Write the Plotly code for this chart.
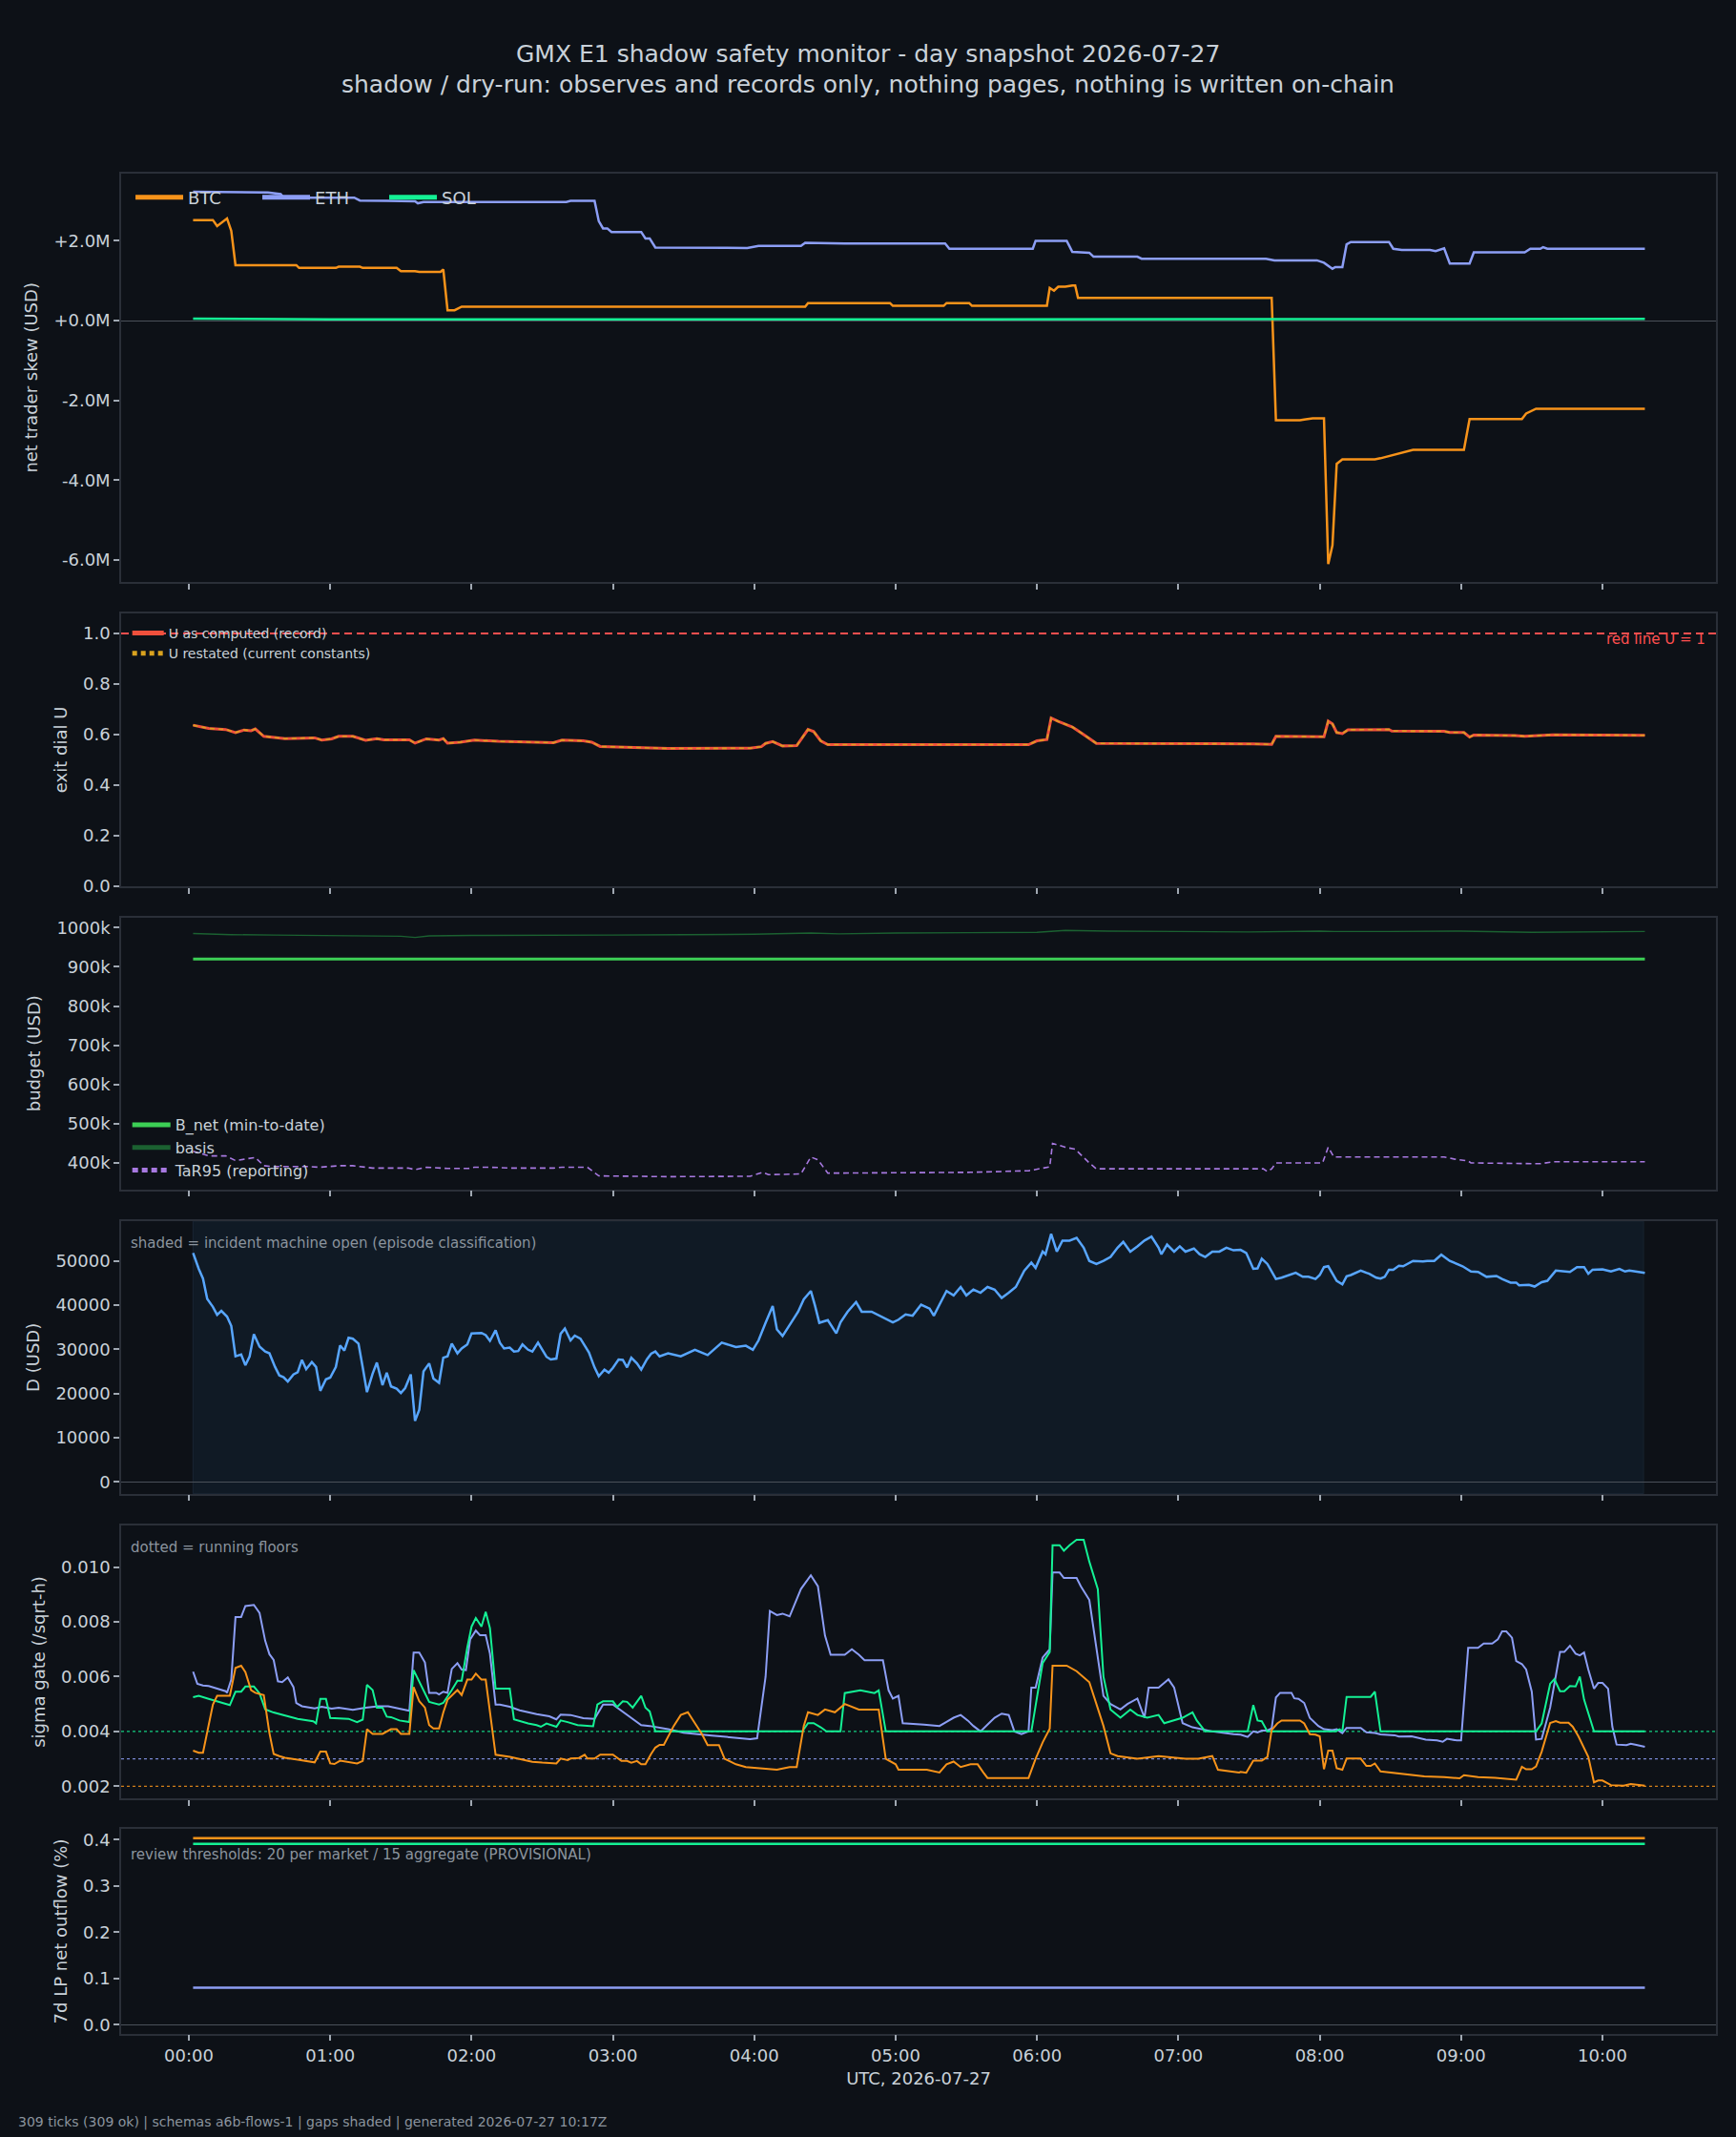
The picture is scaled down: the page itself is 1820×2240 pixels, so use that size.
import numpy as np
import pandas as pd
import plotly.graph_objects as go
from plotly.subplots import make_subplots

DAY = pd.Timestamp("2026-07-27")

# ---------------- panel 1: net trader skew (USD millions) ----------------
skew_btc_h = [0.03, 0.17, 0.20, 0.27, 0.30, 0.33, 0.76, 0.78, 1.04, 1.06, 1.21, 1.23, 1.47, 1.50, 1.60, 1.63,
              1.78, 1.80, 1.83, 1.88, 1.93, 4.36, 4.38, 4.96, 4.98, 5.34, 5.36, 5.52, 5.54, 6.07, 6.09, 6.12,
              6.15, 6.20, 6.25, 6.27, 6.29, 7.66, 7.69, 7.86, 7.89, 7.95, 8.03, 8.06, 8.09, 8.12, 8.16, 8.39,
              8.43, 8.55, 8.61, 8.66, 9.02, 9.06, 9.43, 9.46, 9.53, 10.30]
skew_btc_m = [2.52, 2.52, 2.37, 2.56, 2.25, 1.39, 1.39, 1.32, 1.32, 1.35, 1.35, 1.32, 1.32, 1.24, 1.24, 1.22,
              1.22, 1.28, 0.26, 0.26, 0.35, 0.35, 0.44, 0.44, 0.37, 0.37, 0.44, 0.44, 0.37, 0.37, 0.82, 0.75,
              0.85, 0.85, 0.88, 0.88, 0.57, 0.57, -2.50, -2.50, -2.48, -2.45, -2.45, -6.10, -5.63, -3.59, -3.48, -3.48,
              -3.45, -3.34, -3.30, -3.24, -3.24, -2.47, -2.47, -2.33, -2.21, -2.21]
skew_eth_h = [0.03, 0.56, 0.65, 0.67, 1.17, 1.21, 1.40, 1.60, 1.62, 1.66, 2.67, 2.70, 2.87, 2.90, 2.93, 2.96,
              2.99, 3.20, 3.23, 3.26, 3.30, 3.95, 4.03, 4.33, 4.36, 4.60, 4.64, 5.35, 5.38, 5.97, 5.99, 6.21,
              6.25, 6.37, 6.40, 6.71, 6.74, 7.62, 7.68, 7.98, 8.03, 8.09, 8.11, 8.16, 8.19, 8.22, 8.49, 8.52,
              8.58, 8.78, 8.82, 8.88, 8.92, 9.06, 9.09, 9.45, 9.49, 9.56, 9.58, 9.61, 10.30]
skew_eth_m = [3.23, 3.21, 3.17, 3.08, 3.08, 3.01, 3.00, 2.99, 2.94, 2.97, 2.97, 3.00, 3.00, 2.49, 2.31, 2.31,
              2.22, 2.22, 2.06, 2.06, 1.83, 1.82, 1.87, 1.87, 1.95, 1.93, 1.93, 1.93, 1.80, 1.80, 2.00, 2.00,
              1.72, 1.70, 1.60, 1.60, 1.55, 1.55, 1.51, 1.51, 1.45, 1.30, 1.34, 1.34, 1.91, 1.97, 1.97, 1.80,
              1.77, 1.77, 1.74, 1.81, 1.43, 1.43, 1.71, 1.71, 1.80, 1.80, 1.84, 1.80, 1.80]
skew_sol_h = [0.03, 1.00, 3.00, 6.00, 10.30]
skew_sol_m = [0.05, 0.03, 0.03, 0.04, 0.04]
skew_tickvals = [2, 0, -2, -4, -6]
skew_ticktext = ["+2.0M", "+0.0M", "-2.0M", "-4.0M", "-6.0M"]

# ---------------- panel 2: exit dial U ----------------
u_h = [0.03, 0.14, 0.26, 0.33, 0.39, 0.44, 0.47, 0.53, 0.68, 0.89, 0.94, 1.01, 1.06, 1.16, 1.25, 1.33, 1.38,
       1.56, 1.60, 1.68, 1.77, 1.80, 1.83, 1.92, 2.02, 2.19, 2.58, 2.64, 2.79, 2.85, 2.91, 3.03, 3.24, 3.39,
       3.97, 4.05, 4.08, 4.13, 4.20, 4.30, 4.38, 4.42, 4.47, 4.52, 5.94, 6.00, 6.07, 6.10, 6.15, 6.25, 6.33,
       6.38, 6.42, 7.53, 7.66, 7.69, 8.03, 8.06, 8.09, 8.12, 8.16, 8.20, 8.49, 8.51, 8.88, 8.92, 9.02, 9.06,
       9.09, 9.38, 9.45, 9.65, 10.30]
u_computed = [0.637, 0.624, 0.620, 0.608, 0.618, 0.615, 0.622, 0.593, 0.584, 0.587, 0.578, 0.583, 0.593, 0.593,
              0.577, 0.584, 0.579, 0.579, 0.566, 0.583, 0.578, 0.584, 0.566, 0.570, 0.578, 0.573, 0.568, 0.578,
              0.575, 0.570, 0.553, 0.551, 0.548, 0.545, 0.546, 0.552, 0.565, 0.572, 0.555, 0.556, 0.620, 0.612,
              0.575, 0.560, 0.560, 0.575, 0.580, 0.665, 0.652, 0.630, 0.600, 0.580, 0.565, 0.563, 0.561, 0.593,
              0.591, 0.653, 0.642, 0.608, 0.604, 0.619, 0.620, 0.614, 0.613, 0.608, 0.608, 0.590, 0.598, 0.596,
              0.593, 0.599, 0.597]
u_restated = list(u_computed)
u_red_line = 1.0

# ---------------- panel 3: budget (USD) ----------------
bnet_h = [0.03, 10.30]
bnet_usd = [920000, 920000]
basis_h = [0.03, 0.3, 0.6, 1.0, 1.5, 1.6, 1.7, 2.0, 2.5, 3.0, 3.5, 4.0, 4.4, 4.6, 5.0, 5.5, 6.0, 6.2, 6.5,
           7.0, 7.5, 8.0, 8.1, 8.5, 9.0, 9.5, 10.3]
basis_k = [985, 982, 981, 979, 978, 975, 979, 980, 980, 981, 982, 983, 986, 984, 986, 987, 988, 993, 991,
           990, 989, 991, 990, 990, 991, 988, 990]
tar95_h = [0.03, 0.14, 0.26, 0.33, 0.47, 0.53, 0.59, 0.83, 0.92, 1.07, 1.16, 1.25, 1.30, 1.55, 1.60, 1.68,
           1.83, 1.98, 2.02, 2.13, 2.28, 2.58, 2.64, 2.82, 2.90, 3.39, 3.97, 4.06, 4.10, 4.33, 4.40, 4.45,
           4.52, 5.50, 5.94, 6.09, 6.11, 6.20, 6.27, 6.37, 6.42, 7.60, 7.63, 7.66, 7.69, 8.02, 8.06, 8.10,
           8.15, 8.88, 8.95, 9.05, 9.07, 9.56, 9.65, 10.30]
tar95_k = [430, 418, 418, 406, 414, 393, 391, 391, 389, 393, 393, 388, 387, 387, 383, 389, 386, 386, 389, 389,
           387, 387, 389, 389, 367, 365, 366, 376, 370, 372, 415, 408, 374, 376, 380, 390, 450, 440, 435, 400,
           385, 385, 378, 385, 400, 400, 440, 415, 415, 415, 410, 405, 400, 398, 403, 403]
budget_tickvals = [400000, 500000, 600000, 700000, 800000, 900000, 1000000]
budget_ticktext = ["400k", "500k", "600k", "700k", "800k", "900k", "1000k"]

# ---------------- panel 4: D (USD) ----------------
d_h = [0.03, 0.07, 0.10, 0.13, 0.17, 0.20, 0.23, 0.27, 0.30, 0.33, 0.37, 0.40, 0.43, 0.46, 0.50, 0.54, 0.57,
       0.61, 0.64, 0.67, 0.70, 0.74, 0.77, 0.80, 0.83, 0.87, 0.90, 0.93, 0.97, 1.00, 1.04, 1.07, 1.10, 1.13,
       1.16, 1.20, 1.23, 1.26, 1.30, 1.33, 1.37, 1.40, 1.43, 1.47, 1.50, 1.53, 1.57, 1.60, 1.63, 1.66, 1.70,
       1.73, 1.77, 1.80, 1.83, 1.86, 1.90, 1.93, 1.97, 2.00, 2.07, 2.10, 2.13, 2.17, 2.20, 2.23, 2.27, 2.30,
       2.33, 2.36, 2.40, 2.43, 2.47, 2.50, 2.53, 2.56, 2.60, 2.63, 2.66, 2.70, 2.73, 2.77, 2.80, 2.83, 2.87,
       2.90, 2.94, 2.97, 3.00, 3.04, 3.07, 3.10, 3.13, 3.17, 3.20, 3.24, 3.27, 3.30, 3.33, 3.39,
       3.48, 3.58, 3.67, 3.77, 3.87, 3.94, 3.99, 4.03, 4.08, 4.13, 4.16, 4.20, 4.25, 4.31, 4.35, 4.40, 4.43,
       4.46, 4.52, 4.58, 4.61, 4.66, 4.72, 4.76, 4.83, 4.91, 4.98, 5.02, 5.07, 5.12, 5.18, 5.24, 5.27, 5.31,
       5.36, 5.41, 5.46, 5.50, 5.55, 5.60, 5.65, 5.70, 5.75, 5.80, 5.85, 5.91, 5.96, 5.99, 6.04, 6.06, 6.10,
       6.14, 6.18, 6.23, 6.28, 6.33, 6.37, 6.42, 6.47, 6.52, 6.57, 6.61, 6.66, 6.71, 6.76, 6.81, 6.86, 6.88,
       6.92, 6.97, 7.01, 7.05, 7.11, 7.15, 7.19, 7.24, 7.29, 7.34, 7.39, 7.44,
       7.48, 7.53, 7.56, 7.59, 7.63, 7.69, 7.73, 7.83, 7.88, 7.92, 7.97, 8.00, 8.03, 8.06, 8.12, 8.16, 8.19,
       8.22, 8.27, 8.29, 8.33, 8.35, 8.40, 8.43, 8.46, 8.49, 8.52, 8.56, 8.59, 8.66, 8.73, 8.76, 8.81, 8.86,
       8.92, 9.01, 9.07, 9.12, 9.18, 9.25, 9.29, 9.35, 9.39, 9.41, 9.48, 9.52, 9.57, 9.61, 9.67, 9.77, 9.82,
       9.87, 9.90, 9.93, 10.00, 10.06, 10.12, 10.16, 10.19, 10.30]
d_usd = [51800, 48200, 46000, 41400, 39600, 37800, 38700, 37400, 35300, 28400, 28800, 26400, 28400, 33400,
         30600, 29500, 29100, 26000, 24100, 23700, 22700, 24300, 24800, 27600, 25500, 27100, 26000, 20600,
         23200, 23600, 26000, 30900, 29700, 32600, 32400, 31300, 25900, 20300, 24500, 27000, 21900, 24700,
         21600, 21100, 20100, 21200, 24300, 13800, 16300, 25000, 26800, 23400, 22400, 28100, 28400, 31300,
         29100, 30200, 31100, 33600, 33700, 33200, 31900, 34300, 31500, 30200, 30400, 29500, 29600, 31100,
         29900, 29500, 31500, 29900, 28300, 27700, 27900, 33500, 34700, 32000, 33100, 32400, 30900, 29300,
         25900, 23900, 25400, 24700, 25800, 27700, 27600, 25900, 28100, 26800, 25400, 27700, 29000, 29500,
         28400, 29100,
         28400, 29900, 28700, 31500, 30500, 30800, 29900, 32000, 36000, 39800, 34500, 33000, 35500, 38500,
         41300, 43200, 39800, 36000, 36600, 33600, 36100, 38500, 40700, 38500, 38500, 37300, 36100, 36700,
         37900, 37600, 40100, 39200, 37600, 40100, 43200, 42200, 44100, 42200, 43500, 42800, 44100, 43500,
         41600, 42800, 44100, 47800, 49600, 48400, 52100, 51500, 56100, 52100, 54600, 54600, 55200, 53000,
         50000, 49300, 50000, 50900, 53000, 54300, 52100, 53300, 54600, 55500, 53000, 51500, 53700, 52100,
         53300, 52100, 52800, 51500, 50900, 52100, 52100, 53000, 52400, 52500,
         51800, 48200, 48300, 50500, 49300, 45900, 46200, 47300, 46400, 46400, 45900, 46800, 48600, 48800,
         45500, 44700, 46500, 46800, 47600, 47800, 47300, 47100, 46200, 46000, 46400, 48000, 48000, 48900,
         48800, 50000, 49900, 50000, 50000, 51400, 50000, 48800, 47600, 47500, 46400, 46600, 45900, 45100,
         45100, 44500, 44600, 44200, 45200, 45500, 47800, 47500, 48600, 48600, 47100, 48000, 48100, 47600,
         48200, 47600, 47800, 47300]
incident_open_h = [0.03]
incident_close_h = [10.29]

# ---------------- panel 5: sigma gate (units of 1e-3 /sqrt-h) ----------------
sig_eth_h = [0.03, 0.06, 0.10, 0.14, 0.26, 0.27, 0.30, 0.33, 0.37, 0.40, 0.46, 0.50, 0.54, 0.57, 0.60, 0.63,
             0.66, 0.70, 0.74, 0.76, 0.80, 0.89, 0.94, 1.01, 1.06, 1.16, 1.25, 1.34, 1.41, 1.48, 1.54, 1.56,
             1.59, 1.63, 1.67, 1.70, 1.75, 1.77, 1.80, 1.83, 1.86, 1.90, 1.93, 1.96, 1.99, 2.03, 2.06, 2.10,
             2.13, 2.17, 2.20, 2.27, 2.34, 2.40, 2.46, 2.55, 2.60, 2.63, 2.70, 2.79, 2.87, 2.93, 3.00, 3.20,
             3.26, 3.39,
             3.50, 3.70, 3.85, 3.97, 4.02, 4.08, 4.11, 4.16, 4.20, 4.25, 4.33, 4.40, 4.45, 4.50, 4.54, 4.64,
             4.69, 4.74, 4.78, 4.91, 4.95, 4.98, 5.02, 5.05, 5.20, 5.31, 5.36, 5.41, 5.46, 5.51, 5.55, 5.60,
             5.66, 5.70, 5.75, 5.80, 5.84, 5.89, 5.94, 5.96, 5.99, 6.04, 6.09, 6.11, 6.16, 6.19, 6.28, 6.31,
             6.37, 6.42, 6.47, 6.52, 6.59, 6.64, 6.71, 6.76, 6.79, 6.86, 6.93, 6.97, 7.03, 7.10, 7.24, 7.39,
             7.44, 7.49, 7.53, 7.56, 7.59, 7.63, 7.66, 7.69, 7.72, 7.80, 7.82, 7.85, 7.89, 7.93, 7.99, 8.03,
             8.09, 8.12, 8.16, 8.19, 8.29, 8.33, 8.39, 8.43, 8.53, 8.56, 8.65, 8.75, 8.83, 8.87, 8.90, 8.97,
             9.00, 9.05, 9.12, 9.16, 9.22, 9.26, 9.29, 9.32, 9.36, 9.39, 9.43, 9.46, 9.50, 9.53, 9.57, 9.60,
             9.63, 9.67, 9.70, 9.73, 9.77, 9.81, 9.84, 9.87, 9.90, 9.94, 9.97, 10.00, 10.04, 10.07, 10.10,
             10.17, 10.20, 10.24, 10.30]
sig_eth = [6.18, 5.74, 5.68, 5.66, 5.47, 5.41, 5.89, 8.18, 8.18, 8.58, 8.62, 8.33, 7.31, 6.82, 6.61, 5.83,
           5.80, 5.97, 5.62, 5.04, 4.92, 4.84, 4.90, 4.83, 4.87, 4.79, 4.87, 4.92, 4.92, 4.84, 4.75, 4.75,
           6.88, 6.88, 6.52, 5.41, 5.41, 5.35, 5.45, 5.41, 6.28, 6.49, 6.26, 6.24, 7.36, 7.68, 7.51, 7.51,
           6.84, 4.98, 4.98, 4.90, 4.77, 4.69, 4.63, 4.55, 4.44, 4.61, 4.60, 4.48, 4.46, 4.98, 4.98, 4.23,
           4.20, 4.08,
           3.95, 3.85, 3.78, 3.72, 3.75, 6.00, 8.40, 8.25, 8.30, 8.20, 9.20, 9.70, 9.30, 7.50, 6.80, 6.80,
           7.00, 6.80, 6.60, 6.60, 5.50, 5.20, 5.30, 4.30, 4.25, 4.20, 4.35, 4.50, 4.60, 4.40, 4.20, 4.00,
           4.30, 4.50, 4.65, 4.60, 4.00, 3.90, 4.00, 5.60, 5.60, 6.70, 7.00, 9.80, 9.80, 9.60, 9.60, 9.30,
           8.80, 7.00, 5.30, 5.00, 4.80, 5.00, 5.20, 4.50, 5.60, 5.60, 5.90, 5.60, 4.30, 4.15, 4.00, 3.90,
           3.88, 3.80, 4.00, 3.96, 4.03, 4.03, 4.11, 5.24, 5.41, 5.41, 5.21, 5.19, 5.04, 4.49, 4.20, 4.08,
           4.05, 4.08, 3.94, 4.13, 4.13, 3.97, 3.94, 3.89, 3.86, 3.81, 3.82, 3.70, 3.67, 3.62, 3.73, 3.67,
           3.67, 7.05, 7.05, 7.21, 7.21, 7.36, 7.65, 7.65, 7.42, 6.57, 6.46, 6.26, 5.45, 3.70, 3.73, 4.29,
           4.87, 6.03, 6.90, 6.90, 7.13, 6.84, 6.78, 6.88, 6.26, 5.56, 5.77, 5.77, 5.56, 4.17, 3.52,
           3.50, 3.55, 3.51, 3.44]
sig_sol_h = [0.03, 0.07, 0.14, 0.29, 0.33, 0.37, 0.40, 0.46, 0.50, 0.54, 0.60, 0.77, 0.88, 0.90, 0.93, 0.97,
             1.00, 1.07, 1.13, 1.19, 1.23, 1.26, 1.30, 1.33, 1.37, 1.40, 1.43, 1.49, 1.56, 1.59, 1.63, 1.67,
             1.70, 1.77, 1.80, 1.86, 1.90, 1.93, 1.97, 2.00, 2.03, 2.07, 2.10, 2.13, 2.17, 2.27, 2.30, 2.40,
             2.46, 2.49, 2.53, 2.60, 2.63, 2.68, 2.75, 2.86, 2.89, 2.93, 3.00, 3.03, 3.07, 3.10, 3.14, 3.20,
             3.23, 3.26, 3.30,
             4.34, 4.38, 4.42, 4.47, 4.51, 4.61, 4.64, 4.75, 4.85, 4.88, 4.93, 5.96, 6.04, 6.09, 6.11, 6.16,
             6.19, 6.23, 6.28, 6.33, 6.37, 6.43, 6.47, 6.52, 6.59, 6.66, 6.71, 6.78, 6.86, 6.90, 7.03, 7.10,
             7.13, 7.19, 7.49,
             7.53, 7.56, 7.59, 7.63, 8.11, 8.14, 8.16, 8.19, 8.36, 8.39, 8.43, 9.53, 9.57, 9.63, 9.66, 9.70,
             9.73, 9.77, 9.81, 9.84, 9.87, 9.94, 10.30]
sig_sol = [5.25, 5.30, 5.19, 4.96, 5.45, 5.45, 5.64, 5.64, 5.39, 4.81, 4.69, 4.46, 4.37, 4.29, 5.19, 5.19,
           4.49, 4.48, 4.46, 4.34, 4.43, 5.70, 5.51, 4.87, 4.87, 4.54, 4.52, 4.40, 4.34, 6.24, 5.80, 5.39,
           5.08, 4.98, 5.04, 5.51, 5.85, 5.85, 7.07, 7.83, 8.14, 7.83, 8.37, 7.77, 5.56, 5.56, 4.44, 4.29,
           4.23, 4.17, 4.29, 4.17, 4.40, 4.34, 4.23, 4.19, 4.98, 5.10, 5.10, 4.89, 5.10, 5.08, 4.87, 5.30,
           4.87, 4.73, 4.00,
           4.00, 4.30, 4.30, 4.15, 4.00, 4.00, 5.40, 5.50, 5.40, 5.50, 4.00, 4.00, 6.50, 6.90, 10.80, 10.80,
           10.60, 10.80, 11.00, 11.00, 10.20, 9.20, 6.00, 4.80, 4.50, 4.80, 4.60, 4.50, 4.60, 4.30, 4.50, 4.70,
           4.40, 4.00, 4.00,
           4.96, 4.40, 4.37, 4.00, 4.00, 4.08, 4.00, 5.26, 5.26, 5.45, 4.00, 4.00, 4.29, 5.74, 5.91, 5.47,
           5.47, 5.66, 5.64, 6.00, 5.16, 4.00, 4.00]
sig_btc_h = [0.03, 0.07, 0.10, 0.13, 0.17, 0.20, 0.29, 0.33, 0.37, 0.40, 0.44, 0.47, 0.53, 0.57, 0.60, 0.64,
             0.68, 0.77, 0.89, 0.93, 0.97, 1.00, 1.03, 1.07, 1.19, 1.23, 1.26, 1.30, 1.37, 1.43, 1.47, 1.50,
             1.56, 1.59, 1.63, 1.67, 1.70, 1.73, 1.77, 1.80, 1.83, 1.90, 1.93, 1.97, 2.00, 2.03, 2.07, 2.10,
             2.17, 2.27, 2.43, 2.50, 2.60, 2.63, 2.68, 2.70, 2.76, 2.80, 2.82, 2.87, 2.91, 3.00, 3.06, 3.10,
             3.13, 3.17, 3.20, 3.23, 3.27, 3.30, 3.33, 3.36,
             3.39, 3.43, 3.48, 3.53, 3.58, 3.63, 3.67, 3.75, 3.79, 3.87, 3.94, 4.06, 4.16, 4.25, 4.30, 4.35,
             4.38, 4.45, 4.50, 4.57, 4.64, 4.74, 4.88, 4.93, 5.00, 5.02, 5.22, 5.31, 5.36, 5.41, 5.46, 5.53,
             5.58, 5.62, 5.65, 5.94, 5.99, 6.04, 6.09, 6.11, 6.21, 6.28, 6.37, 6.42, 6.47, 6.52, 6.57, 6.71,
             6.86, 7.05, 7.14, 7.24, 7.28, 7.43,
             7.44, 7.48, 7.53, 7.59, 7.63, 7.66, 7.70, 7.73, 7.86, 7.89, 7.93, 7.97, 8.00, 8.03, 8.06, 8.09,
             8.12, 8.16, 8.19, 8.29, 8.33, 8.36, 8.39, 8.43, 8.56, 8.74, 8.88, 8.99, 9.02, 9.12, 9.24, 9.39,
             9.43, 9.46, 9.50, 9.53, 9.57, 9.63, 9.67, 9.70, 9.76, 9.79, 9.83, 9.90, 9.94, 9.97, 10.00, 10.06,
             10.15, 10.20, 10.30]
sig_btc = [3.30, 3.22, 3.22, 3.94, 4.98, 5.30, 5.30, 6.32, 6.40, 6.17, 5.51, 5.41, 5.33, 3.94, 3.18, 3.10,
           3.04, 2.97, 2.87, 3.26, 3.26, 2.83, 2.81, 2.93, 2.83, 2.92, 4.08, 3.91, 3.91, 4.08, 4.08, 3.91,
           3.91, 5.62, 5.10, 4.87, 4.23, 4.11, 4.11, 4.69, 5.16, 5.51, 5.33, 5.89, 5.89, 6.11, 5.89, 5.89,
           3.15, 3.07, 2.89, 2.86, 2.83, 3.01, 2.95, 3.01, 3.03, 3.15, 3.01, 3.01, 3.15, 3.15, 2.92, 2.92,
           2.86, 2.92, 2.80, 2.80, 3.18, 3.41, 3.51, 3.51,
           3.82, 4.20, 4.60, 4.70, 4.30, 3.90, 3.50, 3.50, 3.00, 2.80, 2.70, 2.65, 2.60, 2.70, 2.70, 4.20,
           4.70, 4.60, 4.80, 4.70, 5.00, 4.80, 4.80, 3.00, 2.80, 2.60, 2.60, 2.50, 2.80, 2.90, 2.70, 2.80,
           2.80, 2.50, 2.30, 2.30, 3.00, 3.60, 4.10, 6.40, 6.40, 6.20, 5.80, 5.00, 4.20, 3.20, 3.10, 3.00,
           3.10, 3.00, 3.00, 3.10, 2.60, 2.50,
           2.52, 2.49, 2.93, 2.93, 3.07, 4.05, 4.29, 4.40, 4.40, 4.29, 3.90, 3.88, 3.82, 2.62, 3.30, 3.30,
           2.66, 2.60, 3.01, 3.01, 2.74, 2.74, 2.83, 2.54, 2.47, 2.36, 2.33, 2.29, 2.40, 2.33, 2.31, 2.24,
           2.71, 2.62, 2.62, 2.72, 3.26, 4.31, 4.38, 4.32, 4.32, 4.17, 3.82, 3.07, 2.14, 2.21, 2.21, 2.04,
           2.02, 2.08, 2.02]
floor_btc, floor_eth, floor_sol = 0.002, 0.003, 0.004

# ---------------- panel 6: 7d LP net outflow (%) ----------------
lp_h = [0.03, 10.30]
lp_btc = [0.403, 0.403]
lp_sol = [0.391, 0.391]
lp_eth = [0.080, 0.080]


def ts(hours):
    return DAY + pd.to_timedelta(np.asarray(hours, dtype=float), unit="h")


# ---------------- style / layout ----------------
BG = "#0d1117"
FRAME = "#2a2f38"
TXT = "#c9d1d9"
MUTED = "#8b949e"
TICKC = "#a0a8b2"
C_BTC = "#f7931a"
C_ETH = "#8c9ef5"
C_SOL = "#14f195"
FONT = "DejaVu Sans"

W, H = 1820, 2240
M_L, M_R, M_T, M_B = 127, 21, 181, 108
PLOT_H = H - M_T - M_B
PLOT_W = W - M_L - M_R
PANELS = [(181.7, 610.0), (642.7, 929.0), (961.7, 1246.7), (1280.0, 1565.7), (1599.0, 1885.0), (1917.3, 2131.7)]


def ydom(top, bot):
    return [max(0.0, (H - M_B - bot) / PLOT_H), min(1.0, (H - M_B - top) / PLOT_H)]


def py(y_px):
    return (H - M_B - y_px) / PLOT_H


def px(x_px):
    return (x_px - M_L) / PLOT_W


fig = make_subplots(rows=6, cols=1, shared_xaxes=True, vertical_spacing=0.01)

# panel 1
fig.add_trace(go.Scatter(x=ts(skew_btc_h), y=skew_btc_m, mode="lines", name="BTC",
                         line=dict(color=C_BTC, width=2.5), legend="legend"), row=1, col=1)
fig.add_trace(go.Scatter(x=ts(skew_eth_h), y=skew_eth_m, mode="lines", name="ETH",
                         line=dict(color=C_ETH, width=2.5), legend="legend"), row=1, col=1)
fig.add_trace(go.Scatter(x=ts(skew_sol_h), y=skew_sol_m, mode="lines", name="SOL",
                         line=dict(color=C_SOL, width=2.5), legend="legend"), row=1, col=1)

# panel 2
fig.add_trace(go.Scatter(x=ts(u_h), y=u_computed, mode="lines", name="U as computed (record)",
                         line=dict(color="#f0503c", width=3), legend="legend2"), row=2, col=1)
fig.add_trace(go.Scatter(x=ts(u_h), y=u_restated, mode="lines", name="U restated (current constants)",
                         line=dict(color="#d9a21f", width=1.6, dash="5px,4px"), legend="legend2"), row=2, col=1)

# panel 3
fig.add_trace(go.Scatter(x=ts(bnet_h), y=bnet_usd, mode="lines", name="B_net (min-to-date)",
                         line=dict(color="#3ccf55", width=3), legend="legend3"), row=3, col=1)
fig.add_trace(go.Scatter(x=ts(basis_h), y=np.array(basis_k) * 1000, mode="lines", name="basis",
                         line=dict(color="#1b6131", width=1.4), legend="legend3"), row=3, col=1)
fig.add_trace(go.Scatter(x=ts(tar95_h), y=np.array(tar95_k) * 1000, mode="lines", name="TaR95 (reporting)",
                         line=dict(color="#a779e0", width=1.6, dash="6px,4px"), legend="legend3"), row=3, col=1)

# panel 4
fig.add_trace(go.Scatter(x=ts(d_h), y=d_usd, mode="lines", name="D", showlegend=False,
                         line=dict(color="#58a6ff", width=2.5)), row=4, col=1)

# panel 5
fig.add_trace(go.Scatter(x=ts(sig_eth_h), y=np.array(sig_eth) * 1e-3, mode="lines", showlegend=False,
                         name="ETH", line=dict(color=C_ETH, width=2)), row=5, col=1)
fig.add_trace(go.Scatter(x=ts(sig_sol_h), y=np.array(sig_sol) * 1e-3, mode="lines", showlegend=False,
                         name="SOL", line=dict(color=C_SOL, width=2)), row=5, col=1)
fig.add_trace(go.Scatter(x=ts(sig_btc_h), y=np.array(sig_btc) * 1e-3, mode="lines", showlegend=False,
                         name="BTC", line=dict(color=C_BTC, width=2)), row=5, col=1)

# panel 6
fig.add_trace(go.Scatter(x=ts(lp_h), y=lp_btc, mode="lines", showlegend=False, name="BTC",
                         line=dict(color=C_BTC, width=2.5)), row=6, col=1)
fig.add_trace(go.Scatter(x=ts(lp_h), y=lp_sol, mode="lines", showlegend=False, name="SOL",
                         line=dict(color=C_SOL, width=2.5)), row=6, col=1)
fig.add_trace(go.Scatter(x=ts(lp_h), y=lp_eth, mode="lines", showlegend=False, name="ETH",
                         line=dict(color=C_ETH, width=2.5)), row=6, col=1)

# reference lines / shading (added after traces)
fig.add_hline(y=u_red_line, row=2, col=1, line=dict(color="#ff4f4f", width=2, dash="8px,5px"),
              exclude_empty_subplots=False)
fig.add_vrect(x0=ts(incident_open_h)[0], x1=ts(incident_close_h)[0], row=4, col=1,
              fillcolor="#101a25", opacity=1, line=dict(color="#17222f", width=1.2),
              layer="below", exclude_empty_subplots=False)
for fl, col in ((floor_sol, C_SOL), (floor_eth, C_ETH), (floor_btc, C_BTC)):
    fig.add_hline(y=fl, row=5, col=1, line=dict(color=col, width=1.3, dash="dot"), opacity=0.85,
                  layer="below", exclude_empty_subplots=False)

# axes
axis_style = dict(showline=True, mirror=True, linecolor=FRAME, linewidth=1.5, ticks="outside", ticklen=6,
                  tickwidth=1.5, tickcolor=TICKC, tickfont=dict(size=18, color=TXT, family=FONT),
                  showgrid=False, zeroline=False)
x_range = [DAY + pd.Timedelta(hours=-0.479), DAY + pd.Timedelta(hours=10.803)]
for i in range(1, 7):
    fig.update_xaxes(row=i, col=1, type="date", range=x_range, tickformat="%H:%M", dtick=3600000,
                     tick0=DAY, showticklabels=(i == 6), **axis_style)
fig.update_xaxes(row=6, col=1, title=dict(text="UTC, 2026-07-27", font=dict(size=18, color=TXT, family=FONT),
                                          standoff=8))

ytitle = lambda t: dict(text=t, font=dict(size=18, color=TXT, family=FONT), standoff=12)
zl = dict(zeroline=True, zerolinecolor="#4a5059", zerolinewidth=1.3)
fig.update_yaxes(row=1, col=1, domain=ydom(*PANELS[0]), range=[-6.55, 3.69], tickvals=skew_tickvals,
                 ticktext=skew_ticktext, title=ytitle("net trader skew (USD)"), **{**axis_style, **zl})
fig.update_yaxes(row=2, col=1, domain=ydom(*PANELS[1]), range=[0, 1.08], dtick=0.2, tickformat=".1f",
                 title=ytitle("exit dial U"), **axis_style)
fig.update_yaxes(row=3, col=1, domain=ydom(*PANELS[2]), range=[332600, 1025800], tickvals=budget_tickvals,
                 ticktext=budget_ticktext, title=ytitle("budget (USD)"), **axis_style)
fig.update_yaxes(row=4, col=1, domain=ydom(*PANELS[3]), range=[-2680, 59000], dtick=10000, tickformat="d",
                 title=ytitle("D (USD)"), **{**axis_style, **zl})
fig.update_yaxes(row=5, col=1, domain=ydom(*PANELS[4]), range=[0.001557, 0.01152], dtick=0.002,
                 tick0=0, tickformat=".3f", title=ytitle("sigma gate (/sqrt-h)"), **axis_style)
fig.update_yaxes(row=6, col=1, domain=ydom(*PANELS[5]), range=[-0.0194, 0.4227], dtick=0.1, tickformat=".1f",
                 title=ytitle("7d LP net outflow (%)"), **{**axis_style, **zl})

# annotations
ann_font = dict(size=15, color=MUTED, family=FONT)
fig.add_annotation(x=0.4683, y=py(57), xref="paper", yref="paper", showarrow=False,
                   text="GMX E1 shadow safety monitor - day snapshot 2026-07-27",
                   font=dict(size=25, color=TXT, family=FONT), xanchor="center", yanchor="middle")
fig.add_annotation(x=0.4683, y=py(89), xref="paper", yref="paper", showarrow=False,
                   text="shadow / dry-run: observes and records only, nothing pages, nothing is written on-chain",
                   font=dict(size=25, color=TXT, family=FONT), xanchor="center", yanchor="middle")
fig.add_annotation(x=0.9946, y=0.905, xref="x2 domain", yref="y2 domain", showarrow=False,
                   text="red line U = 1", font=dict(size=15, color="#ff4f4f", family=FONT),
                   xanchor="right", yanchor="middle")
fig.add_annotation(x=0.0048, y=0.9195, xref="x4 domain", yref="y4 domain", showarrow=False,
                   text="shaded = incident machine open (episode classification)", font=ann_font,
                   xanchor="left", yanchor="middle")
fig.add_annotation(x=0.0048, y=0.9185, xref="x5 domain", yref="y5 domain", showarrow=False,
                   text="dotted = running floors", font=ann_font, xanchor="left", yanchor="middle")
fig.add_annotation(x=0.0048, y=0.874, xref="x6 domain", yref="y6 domain", showarrow=False,
                   text="review thresholds: 20 per market / 15 aggregate (PROVISIONAL)", font=ann_font,
                   xanchor="left", yanchor="middle")
fig.add_annotation(x=px(17), y=py(2224), xref="paper", yref="paper", showarrow=False,
                   text="309 ticks (309 ok) | schemas a6b-flows-1 | gaps shaded | generated 2026-07-27 10:17Z",
                   font=dict(size=14, color=MUTED, family=FONT), xanchor="left", yanchor="middle")

legend_base = dict(bgcolor="rgba(0,0,0,0)", borderwidth=0, xanchor="left", itemsizing="constant")
fig.update_layout(
    width=W, height=H, autosize=False,
    margin=dict(l=M_L, r=M_R, t=M_T, b=M_B),
    paper_bgcolor=BG, plot_bgcolor=BG,
    font=dict(family=FONT, color=TXT, size=16),
    legend=dict(**legend_base, orientation="h", x=0.006, y=py(207), yanchor="middle", itemwidth=50,
                font=dict(size=18, color=TXT, family=FONT), entrywidth=68, entrywidthmode="pixels"),
    legend2=dict(**legend_base, orientation="v", x=0.004, y=py(648), yanchor="top", itemwidth=33,
                 font=dict(size=14, color=TXT, family=FONT)),
    legend3=dict(**legend_base, orientation="v", x=0.004, y=py(1162), yanchor="top", itemwidth=40,
                 font=dict(size=16, color=TXT, family=FONT)),
    showlegend=True,
)

fig.write_html("out.html")
